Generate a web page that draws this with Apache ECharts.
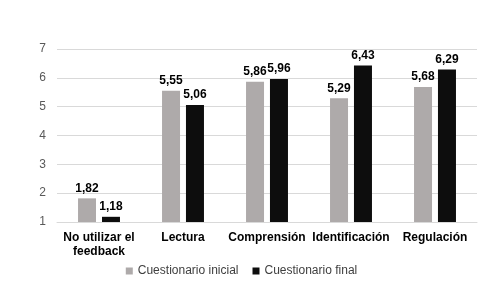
<!DOCTYPE html>
<html>
<head>
<meta charset="utf-8">
<script src="https://cdn.jsdelivr.net/npm/echarts@6/dist/echarts.min.js"></script>
<style>
  html, body { margin: 0; padding: 0; background: #fff; }
  #chart { width: 483px; height: 297px; }
</style>
</head>
<body>
<div id="chart"></div>
<script>
const categories = ['No utilizar el\nfeedback', 'Lectura', 'Comprensión', 'Identificación', 'Regulación'];
const inicial = [1.82, 5.55, 5.86, 5.29, 5.68];
const final = [1.18, 5.06, 5.96, 6.43, 6.29];
const seriesNames = ['Cuestionario inicial', 'Cuestionario final'];

const chart = echarts.init(document.getElementById('chart'));
const fmt = p => p.value.toFixed(2).replace('.', ',');

chart.setOption({
    animation: false,
    textStyle: { fontFamily: 'Liberation Sans, Arial, sans-serif' },
    grid: { left: 57, right: 6, top: 49, bottom: 75 },
    legend: {
        data: seriesNames,
        bottom: 15,
        left: 'center',
        itemWidth: 7,
        itemHeight: 7,
        itemGap: 14,
        icon: 'rect',
        textStyle: { fontSize: 12, color: '#404040', fontFamily: 'Liberation Sans, Arial, sans-serif' }
    },
    xAxis: {
        type: 'category',
        data: categories,
        axisLine: { show: true, lineStyle: { color: '#d9d9d9' } },
        axisTick: { show: false },
        axisLabel: {
            interval: 0,
            margin: 9,
            fontSize: 12,
            fontWeight: 'bold',
            color: '#000',
            lineHeight: 14
        }
    },
    yAxis: {
        type: 'value',
        min: 1,
        max: 7,
        interval: 1,
        axisLine: { show: false },
        axisTick: { show: false },
        axisLabel: { fontSize: 12, color: '#595959', margin: 11 },
        splitLine: { lineStyle: { color: '#d9d9d9' } }
    },
    series: [
        {
            name: seriesNames[0],
            type: 'bar',
            data: inicial,
            barWidth: 18,
            barGap: '33%',
            itemStyle: { color: '#aeaaaa' },
            label: { show: true, position: 'top', formatter: fmt, fontSize: 12, fontWeight: 'bold', color: '#000', distance: 4 }
        },
        {
            name: seriesNames[1],
            type: 'bar',
            data: final,
            barWidth: 18,
            itemStyle: { color: '#0d0d0d' },
            label: { show: true, position: 'top', formatter: fmt, fontSize: 12, fontWeight: 'bold', color: '#000', distance: 4 }
        }
    ]
});
</script>
</body>
</html>
